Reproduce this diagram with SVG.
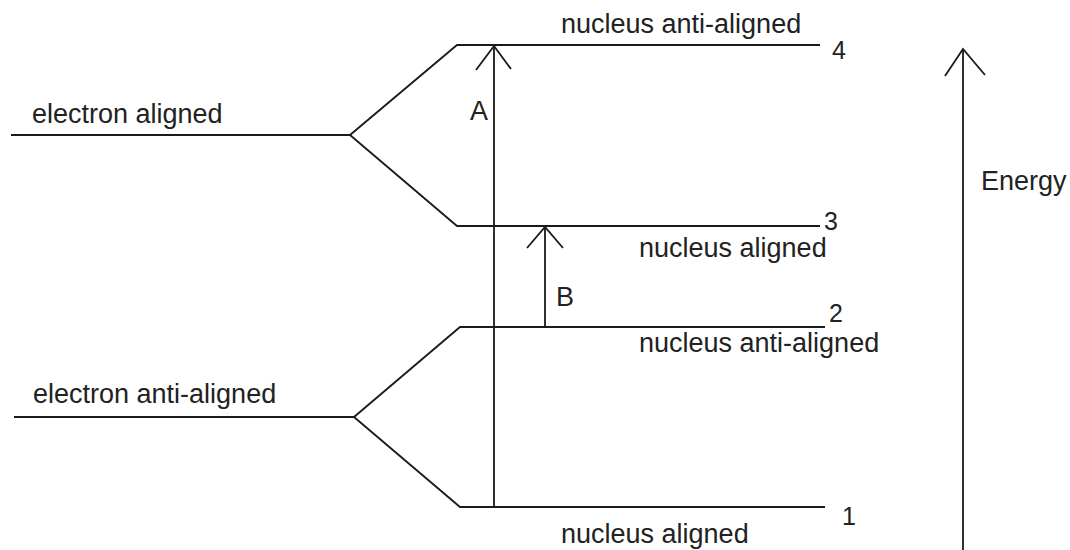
<svg xmlns="http://www.w3.org/2000/svg" width="1070" height="550" viewBox="0 0 1070 550">
<style>
.ln{fill:none;stroke:#1a1a1a;stroke-width:1.8;stroke-linejoin:miter}
.t{font-family:"Liberation Sans",Arial,sans-serif;font-size:27px;fill:#222222}
.n{font-size:25px}
</style>
<rect width="1070" height="550" fill="#ffffff"/>
<g id="level-electron-aligned">
<polyline class="ln" points="11,135 350,135 457,45 820,45"/>
<polyline class="ln" points="350,135 457,226 820,226"/>
<text class="t" x="32" y="123">electron aligned</text>
</g>
<g id="level-electron-anti-aligned">
<polyline class="ln" points="14,417 354,417 460,327 825,327"/>
<polyline class="ln" points="354,417 460,507 825,507"/>
<text class="t" x="33" y="403">electron anti-aligned</text>
</g>
<g id="state-4">
<text class="t" x="561" y="33">nucleus anti-aligned</text>
<text class="t n" x="832" y="59">4</text>
</g>
<g id="state-3">
<text class="t" x="639" y="257">nucleus aligned</text>
<text class="t n" x="824" y="230">3</text>
</g>
<g id="state-2">
<text class="t" x="639" y="352">nucleus anti-aligned</text>
<text class="t n" x="829" y="322">2</text>
</g>
<g id="state-1">
<text class="t" x="561" y="543">nucleus aligned</text>
<text class="t n" x="842" y="525">1</text>
</g>
<g id="connectors">
<line class="ln" x1="494" y1="507" x2="494" y2="46"/>
<polyline class="ln" points="476,70 494,46 511,69"/>
<line class="ln" x1="545" y1="327" x2="545" y2="227"/>
<polyline class="ln" points="527,248 545,227 563,248"/>
<line class="ln" x1="963" y1="550" x2="963" y2="49"/>
<polyline class="ln" points="945,76 963,49 985,75"/>
</g>
<g id="labels">
<text class="t" x="470" y="120">A</text>
<text class="t" x="556" y="306">B</text>
<text class="t" x="981" y="190">Energy</text>
</g>
</svg>
